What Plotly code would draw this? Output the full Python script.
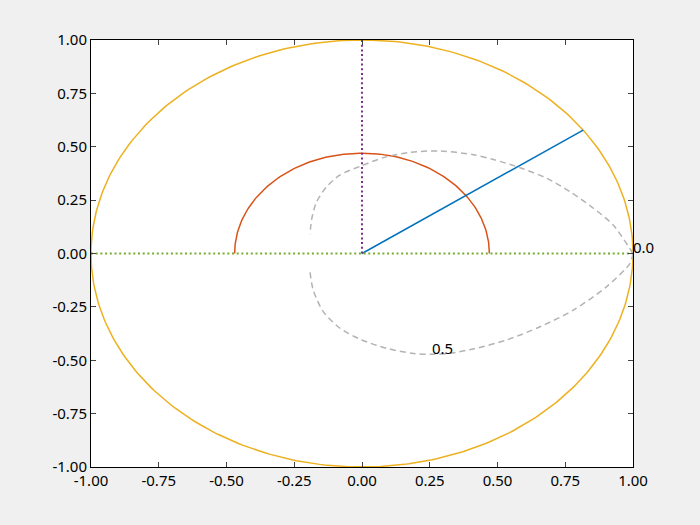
import numpy as np
import plotly.graph_objects as go

# values
outer_radius = 1.0
inner_radius = 0.47
ray_angle_deg = 35.3

# gray dashed loop, upper branch
upper_x = [1.0, 0.927, 0.854, 0.768, 0.682, 0.583, 0.485, 0.411, 0.288,
           0.177, 0.079, -0.001, -0.081, -0.130, -0.167, -0.185, -0.192]
upper_y = [0.0, 0.133, 0.212, 0.289, 0.352, 0.402, 0.440, 0.463, 0.480,
           0.474, 0.449, 0.411, 0.368, 0.313, 0.243, 0.165, 0.090]
# lower branch
lower_x = [1.0, 0.989, 0.903, 0.780, 0.657, 0.534, 0.411, 0.325, 0.263,
           0.189, 0.091, -0.001, -0.081, -0.143, -0.180, -0.192]
lower_y = [0.0, -0.046, -0.155, -0.265, -0.343, -0.405, -0.447, -0.467, -0.472,
           -0.468, -0.444, -0.405, -0.350, -0.272, -0.171, -0.085]

label_text = ["0.0", "0.5"]
label_x = [1.0, 0.26]
label_y = [0.03, -0.443]

ticks = [-1, -0.75, -0.5, -0.25, 0, 0.25, 0.5, 0.75, 1]
tick_text = ["-1.00", "-0.75", "-0.50", "-0.25", "0.00", "0.25", "0.50", "0.75", "1.00"]

fig = go.Figure()

th = np.linspace(0, 2 * np.pi, 361)
fig.add_trace(go.Scatter(x=outer_radius * np.cos(th), y=outer_radius * np.sin(th),
                         mode="lines", line=dict(color="#EDB120", width=1.5)))

th2 = np.linspace(0, np.pi, 181)
fig.add_trace(go.Scatter(x=inner_radius * np.cos(th2), y=inner_radius * np.sin(th2),
                         mode="lines", line=dict(color="#D95319", width=1.5)))

a = np.deg2rad(ray_angle_deg)
fig.add_trace(go.Scatter(x=[0, outer_radius * np.cos(a)], y=[0, outer_radius * np.sin(a)],
                         mode="lines", line=dict(color="#0072BD", width=1.5)))

fig.add_trace(go.Scatter(x=[0, 0], y=[0, outer_radius], mode="lines",
                         line=dict(color="#7E2F8E", width=2, dash="2px,2.7px")))
fig.add_trace(go.Scatter(x=[-outer_radius, outer_radius], y=[0, 0], mode="lines",
                         line=dict(color="#77AC30", width=2, dash="2px,2.7px")))

for bx, by in [(upper_x, upper_y), (lower_x, lower_y)]:
    fig.add_trace(go.Scatter(x=bx, y=by, mode="lines", line_shape="spline",
                             line=dict(color="#B3B3B3", width=1.5, dash="6px,4px", smoothing=0.8)))

for t, xx, yy in zip(label_text, label_x, label_y):
    fig.add_annotation(x=xx, y=yy, text=t, showarrow=False, xanchor="left", yanchor="middle",
                       font=dict(size=15, color="black"), xshift=-2)

axis = dict(range=[-1, 1], tickvals=ticks, ticktext=tick_text, ticks="inside", ticklen=5,
            showline=True, linecolor="black", linewidth=1, mirror="ticks", showgrid=False,
            zeroline=False, tickfont=dict(size=15, color="black"))

fig.update_layout(width=700, height=525, paper_bgcolor="#F0F0F0", plot_bgcolor="white",
                  showlegend=False, margin=dict(l=91, r=67, t=40, b=58),
                  font=dict(family="Noto Sans"),
                  xaxis=axis, yaxis=axis)

fig.write_html("out.html", config={"displayModeBar": False},
               post_script="document.body.style.margin='0';document.body.style.background='#F0F0F0';")
